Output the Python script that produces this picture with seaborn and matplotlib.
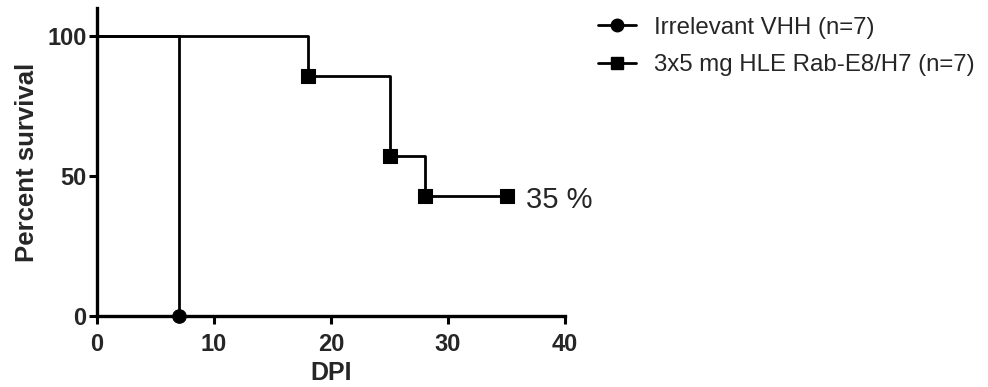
import numpy as np
import pandas as pd
import matplotlib
matplotlib.use('Agg')
import matplotlib.pyplot as plt
import seaborn as sns
from matplotlib.lines import Line2D

# survival data (percent) at each day
irr_days = [0, 7]
irr_surv = [100, 0]
hle_days = [0, 18, 25, 28, 35]
hle_surv = [100, 85.7, 57.1, 42.9, 42.9]

irr_event_days = [7]
irr_event_surv = [0]
hle_event_days = [18, 25, 28, 35]
hle_event_surv = [85.7, 57.1, 42.9, 42.9]

labels = ['Irrelevant VHH (n=7)', '3x5 mg HLE Rab-E8/H7 (n=7)']
x_ticks = [0, 10, 20, 30, 40]
y_ticks = [0, 50, 100]

sns.set_style('ticks')
plt.rcParams['font.family'] = ['Liberation Sans', 'DejaVu Sans']

fig = plt.figure(figsize=(9.88, 3.87), dpi=100)
ax = fig.add_axes([0.0982, 0.1835, 0.4737, 0.7955])

lw = 2.0
sns.lineplot(x=irr_days, y=irr_surv, drawstyle='steps-post', color='black',
             linewidth=lw, ax=ax, estimator=None)
sns.lineplot(x=hle_days, y=hle_surv, drawstyle='steps-post', color='black',
             linewidth=lw, ax=ax, estimator=None)
sns.scatterplot(x=irr_event_days, y=irr_event_surv, marker='o', color='black',
                s=95, edgecolor='black', ax=ax, zorder=5, clip_on=False)
sns.scatterplot(x=hle_event_days, y=hle_event_surv, marker='s', color='black',
                s=95, edgecolor='black', ax=ax, zorder=5, clip_on=False)

ax.text(36.7, hle_surv[-1] - 1.5, '35 %', fontsize=21, va='center', ha='left')

ax.set_xlim(0, 40)
ax.set_ylim(0, 110)
ax.set_xticks(x_ticks)
ax.set_yticks(y_ticks)
for lab in ax.get_xticklabels() + ax.get_yticklabels():
    lab.set_fontweight('bold')
    lab.set_fontsize(17)
ax.tick_params(width=2.2, length=5.5, color='black', pad=2)
ax.tick_params(axis='x', pad=7)
sns.despine(ax=ax)
for s in ['left', 'bottom']:
    ax.spines[s].set_linewidth(2.4)
    ax.spines[s].set_color('black')
ax.set_xlabel('DPI', fontsize=18, fontweight='bold', labelpad=3)
ax.set_ylabel('Percent survival', fontsize=18.5, fontweight='bold', labelpad=6)

handles = [Line2D([], [], color='black', lw=lw, marker='o', markersize=9),
           Line2D([], [], color='black', lw=lw, marker='s', markersize=9)]
fig.legend(handles, labels, loc='upper left', bbox_to_anchor=(0.583, 1.013),
           frameon=False, fontsize=17.3, handlelength=1.6, labelspacing=0.64,
           handletextpad=0.75)

fig.savefig('out.png', dpi=100)
